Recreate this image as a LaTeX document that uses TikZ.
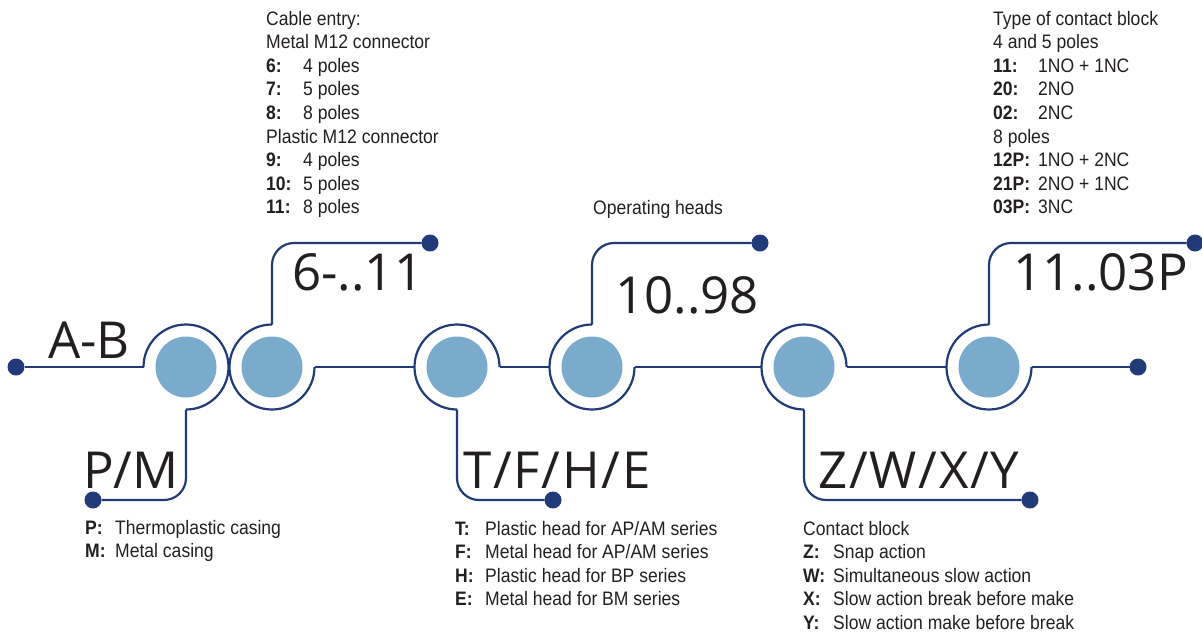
\documentclass[tikz,border=0pt]{standalone}
\usepackage{fontspec}
\setmainfont{Liberation Sans}
\newfontfamily\bigf{Open Sans}
\newfontfamily\bigsp[LetterSpace=3.5]{Open Sans}
\newfontfamily\smf[FakeStretch=0.9]{Liberation Sans}
\definecolor{navy}{RGB}{33,59,120}
\definecolor{corecol}{RGB}{123,171,204}
\definecolor{ink}{RGB}{35,31,32}
\newcommand{\lab}[2]{\makebox[#1][l]{\bfseries #2}}
\begin{document}
\begin{tikzpicture}[x=1pt,y=-1pt,
  wire/.style={draw=navy,line width=2.2pt},
  bendwire/.style={wire,rounded corners=22pt},
  ringnode/.style={circle,minimum size=85pt,inner sep=0pt,outer sep=0pt,fill=white},
  corenode/.style={circle,minimum size=61pt,inner sep=0pt,outer sep=0pt,fill=corecol},
  dotnode/.style={circle,minimum size=17pt,inner sep=0pt,outer sep=0pt,fill=navy},
  big/.style={anchor=base west,inner sep=0pt,text=ink,font=\bigf\fontsize{51}{51}\selectfont},
  bigwide/.style={big,font=\bigsp\fontsize{51}{51}\selectfont},
  info/.style={anchor=base west,inner sep=0pt,text=ink,font=\smf\fontsize{19.5}{23.6}\selectfont}]
\useasboundingbox (0,0) rectangle (1202,633);

% rings and cores
\foreach \n/\x in {1/186,2/272,3/457,4/592,5/804,6/989}{
  \node[ringnode] (r\n) at (\x,367) {};
  \node[corenode] (k\n) at (\x,367) {};
}

% dots
\node[dotnode] (dAB) at (16,367) {};
\node[dotnode] (dPM) at (93,500) {};
\node[dotnode] (dCE) at (430,243) {};
\node[dotnode] (dTF) at (553,500) {};
\node[dotnode] (dOH) at (760,243) {};
\node[dotnode] (dZW) at (1030,500) {};
\node[dotnode] (dTC) at (1195,243) {};
\node[dotnode] (dEnd) at (1138,367) {};

% ring outlines
\draw[wire] (r1.south) arc[start angle=-90,end angle=180,radius=42.5pt];
\draw[wire] (r2.north) arc[start angle=90,end angle=360,radius=42.5pt];
\draw[wire] (r3.east) arc[start angle=0,end angle=270,radius=42.5pt];
\draw[wire] (r4.north) arc[start angle=90,end angle=360,radius=42.5pt];
\draw[wire] (r5.east) arc[start angle=0,end angle=270,radius=42.5pt];
\draw[wire] (r6.north) arc[start angle=90,end angle=360,radius=42.5pt];

% main line
\draw[wire] (dAB) -- (r1.west);
\draw[wire] (r2.east) -- (r3.west);
\draw[wire] (r3.east) -- (r4.west);
\draw[wire] (r4.east) -- (r5.west);
\draw[wire] (r5.east) -- (r6.west);
\draw[wire] (r6.east) -- (dEnd);

% branches
\draw[bendwire] (r1.south) |- (dPM);
\draw[bendwire] (r2.north) |- (dCE);
\draw[bendwire] (r3.south) |- (dTF);
\draw[bendwire] (r4.north) |- (dOH);
\draw[bendwire] (r5.south) |- (dZW);
\draw[bendwire] (r6.north) |- (dTC);

% big labels
\node[big] (tAB) at (48,358) {A-B};
\node[big] (tCE) at (292,290) {6-..11};
\node[big] (tPM) at (83,488) {P/M};
\node[bigwide] (tTF) at (463,488) {T/F/H/E};
\node[big] (tOH) at (615,313) {10..98};
\node[bigwide] (tZW) at (818,488) {Z/W/X/Y};
\node[big] (tTC) at (1013,290) {11..03P};

% info blocks
\node[info] (iCE) at (266,25) {\begin{tabular}[t]{@{}l@{}}
Cable entry:\\
Metal M12 connector\\
\lab{37pt}{6:}4 poles\\
\lab{37pt}{7:}5 poles\\
\lab{37pt}{8:}8 poles\\
Plastic M12 connector\\
\lab{37pt}{9:}4 poles\\
\lab{37pt}{10:}5 poles\\
\lab{37pt}{11:}8 poles
\end{tabular}};

\node[info] (iTC) at (993,25) {\begin{tabular}[t]{@{}l@{}}
Type of contact block\\
4 and 5 poles\\
\lab{45pt}{11:}1NO + 1NC\\
\lab{45pt}{20:}2NO\\
\lab{45pt}{02:}2NC\\
8 poles\\
\lab{45pt}{12P:}1NO + 2NC\\
\lab{45pt}{21P:}2NO + 1NC\\
\lab{45pt}{03P:}3NC
\end{tabular}};

\node[info] (iOH) at (593,214) {Operating heads};

\node[info] (iPM) at (85,534) {\begin{tabular}[t]{@{}l@{}}
\lab{30pt}{P:}Thermoplastic casing\\
\lab{30pt}{M:}Metal casing
\end{tabular}};

\node[info] (iTF) at (455,535) {\begin{tabular}[t]{@{}l@{}}
\lab{30pt}{T:}Plastic head for AP/AM series\\
\lab{30pt}{F:}Metal head for AP/AM series\\
\lab{30pt}{H:}Plastic head for BP series\\
\lab{30pt}{E:}Metal head for BM series
\end{tabular}};

\node[info] (iZW) at (803,535) {\begin{tabular}[t]{@{}l@{}}
Contact block\\
\lab{30pt}{Z:}Snap action\\
\lab{30pt}{W:}Simultaneous slow action\\
\lab{30pt}{X:}Slow action break before make\\
\lab{30pt}{Y:}Slow action make before break
\end{tabular}};
\end{tikzpicture}
\end{document}
